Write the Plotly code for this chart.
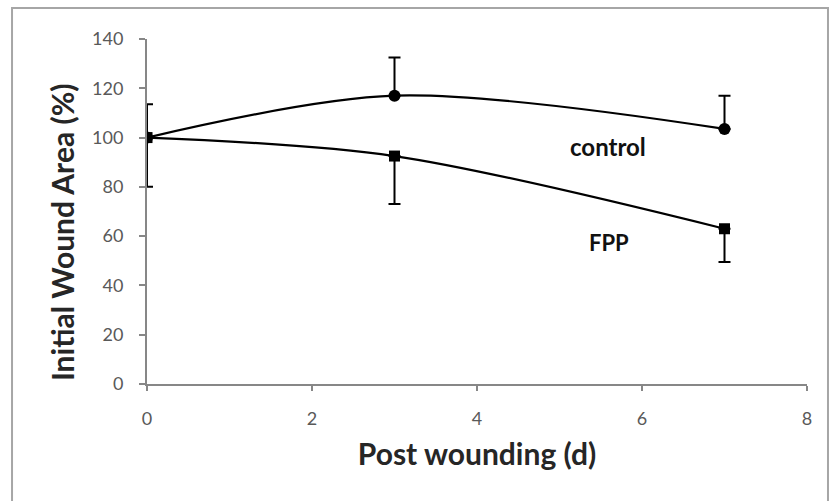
import plotly.graph_objects as go

# Wound closure over time, mean values with one-sided error bars
days = [0, 3, 7]
control_mean = [100, 117, 103.5]
control_err_up = [13.5, 15.5, 13.5]
fpp_mean = [100, 92.5, 63]
fpp_err_down = [20, 19.5, 13.5]

x_ticks = [0, 2, 4, 6, 8]
y_ticks = [0, 20, 40, 60, 80, 100, 120, 140]

FONT = "Lato, Open Sans, sans-serif"
AXIS_GREY = "#878787"

fig = go.Figure()

fig.add_trace(go.Scatter(
    x=days, y=control_mean, name="control", mode="lines+markers",
    line=dict(color="black", width=2.2, shape="spline", smoothing=0.9),
    marker=dict(symbol="circle", size=12, color="black"),
    error_y=dict(type="data", symmetric=False, array=control_err_up,
                 arrayminus=[0, 0, 0], color="black", thickness=2, width=6),
))

fig.add_trace(go.Scatter(
    x=days, y=fpp_mean, name="FPP", mode="lines+markers",
    line=dict(color="black", width=2.2, shape="spline", smoothing=0.9),
    marker=dict(symbol="square", size=11, color="black"),
    error_y=dict(type="data", symmetric=False, array=[0, 0, 0],
                 arrayminus=fpp_err_down, color="black", thickness=2, width=6),
))

# Series labels placed beside the curves
fig.add_annotation(x=5.59, y=96.5, text="<b>control</b>", showarrow=False,
                   font=dict(family=FONT, size=24, color="#111111"))
fig.add_annotation(x=5.6, y=57.5, text="<b>FPP</b>", showarrow=False,
                   font=dict(family=FONT, size=22, color="#111111"))

# Vertical axis title, sitting a little below the axis centre
fig.add_annotation(xref="paper", yref="paper", x=-0.129, y=0.44,
                   xanchor="center", yanchor="middle", textangle=-90,
                   text="<b>Initial Wound Area (%)</b>", showarrow=False,
                   font=dict(family=FONT, size=30, color="#262626"))

# Outer chart frame
fig.add_shape(type="rect", xref="paper", yref="paper",
              x0=-0.2045, x1=1.0318, y0=-0.5, y1=1.0899,
              line=dict(color="#a6a6a6", width=2), fillcolor="rgba(0,0,0,0)",
              layer="below")

fig.update_layout(
    width=829, height=501,
    margin=dict(l=147, r=22, t=39, b=117),
    paper_bgcolor="white", plot_bgcolor="white",
    showlegend=False,
    font=dict(family=FONT, color="#595959"),
    xaxis=dict(
        range=[0, 8], tickvals=x_ticks, showgrid=False, zeroline=False,
        showline=True, linecolor=AXIS_GREY, linewidth=2,
        ticks="outside", ticklen=5, tickcolor=AXIS_GREY, tickwidth=2,
        ticklabelstandoff=12,
        tickfont=dict(size=18, color="#595959"),
        title=dict(text="<b>Post wounding (d)</b>", standoff=16,
                   font=dict(size=30, color="#262626")),
    ),
    yaxis=dict(
        range=[0, 140], tickvals=y_ticks, showgrid=False, zeroline=False,
        showline=True, linecolor=AXIS_GREY, linewidth=2,
        ticks="outside", ticklen=6, tickcolor=AXIS_GREY, tickwidth=2,
        ticklabelstandoff=12,
        tickfont=dict(size=18, color="#595959"),
    ),
)

fig.write_html("out.html")
